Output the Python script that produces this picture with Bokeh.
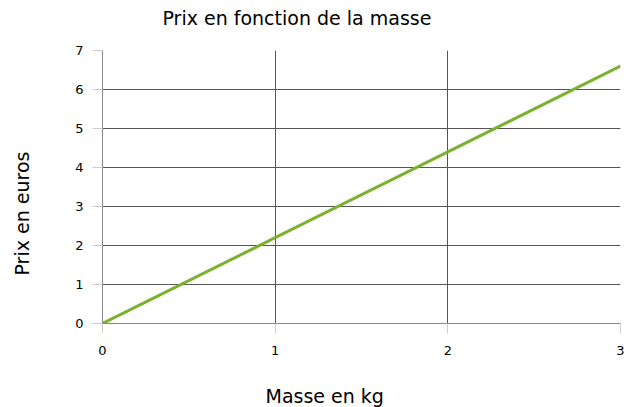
from bokeh.plotting import figure
from bokeh.models import Range1d, Title, FixedTicker
from bokeh.embed import file_html
from bokeh.resources import INLINE

masse = [0, 1, 2, 3]
prix = [0, 2.2, 4.4, 6.6]
x_ticks = [0, 1, 2, 3]
y_ticks = [0, 1, 2, 3, 4, 5, 6, 7]
title_text = "Prix en fonction de la masse"
x_label = "Masse en kg"
y_label = "Prix en euros"

FONT = "DejaVu Sans"

p = figure(width=628, height=407, output_backend="svg", toolbar_location=None,
           x_range=Range1d(0, 3), y_range=Range1d(0, 7),
           min_border_left=102, min_border_right=8, min_border_top=50, min_border_bottom=84)
p.title.visible = False
p.outline_line_color = None
p.background_fill_color = "white"
p.border_fill_color = "white"

p.line(masse, prix, line_color="#7ab22e", line_width=3)

for ax in (p.xaxis, p.yaxis):
    ax.major_label_text_font = FONT
    ax.major_label_text_font_size = "13px"
    ax.major_label_text_color = "#000000"
    ax.axis_line_color = "#888888"
    ax.major_tick_line_color = "#cccccc"
    ax.major_tick_out = 10
    ax.major_tick_in = 0
    ax.minor_tick_line_color = None

p.xaxis.major_label_standoff = 12
p.yaxis.major_label_standoff = 9

p.xaxis.ticker = FixedTicker(ticks=x_ticks)
p.yaxis.ticker = FixedTicker(ticks=y_ticks)

p.xgrid.ticker = FixedTicker(ticks=x_ticks)
p.ygrid.ticker = FixedTicker(ticks=y_ticks)
p.grid.grid_line_color = "#555555"
p.grid.grid_line_width = 1


def spacer(st):
    # blank title used only as empty space between the axis and its label
    return Title(text="\u00a0", text_font_size="1px", text_color="white", standoff=st)


def label(text, offset, st):
    return Title(text=text, align="left", offset=offset, text_font=FONT,
                 text_font_size="19px", text_font_style="normal",
                 text_color="#000000", standoff=st)


p.add_layout(spacer(13.7), "above")
p.add_layout(label(title_text, 60, 9), "above")
p.add_layout(spacer(23.2), "below")
p.add_layout(label(x_label, 163, -1), "below")
p.add_layout(spacer(36.7), "left")
p.add_layout(label(y_label, 48, 0), "left")

open("out.html", "w").write(file_html(p, INLINE))
